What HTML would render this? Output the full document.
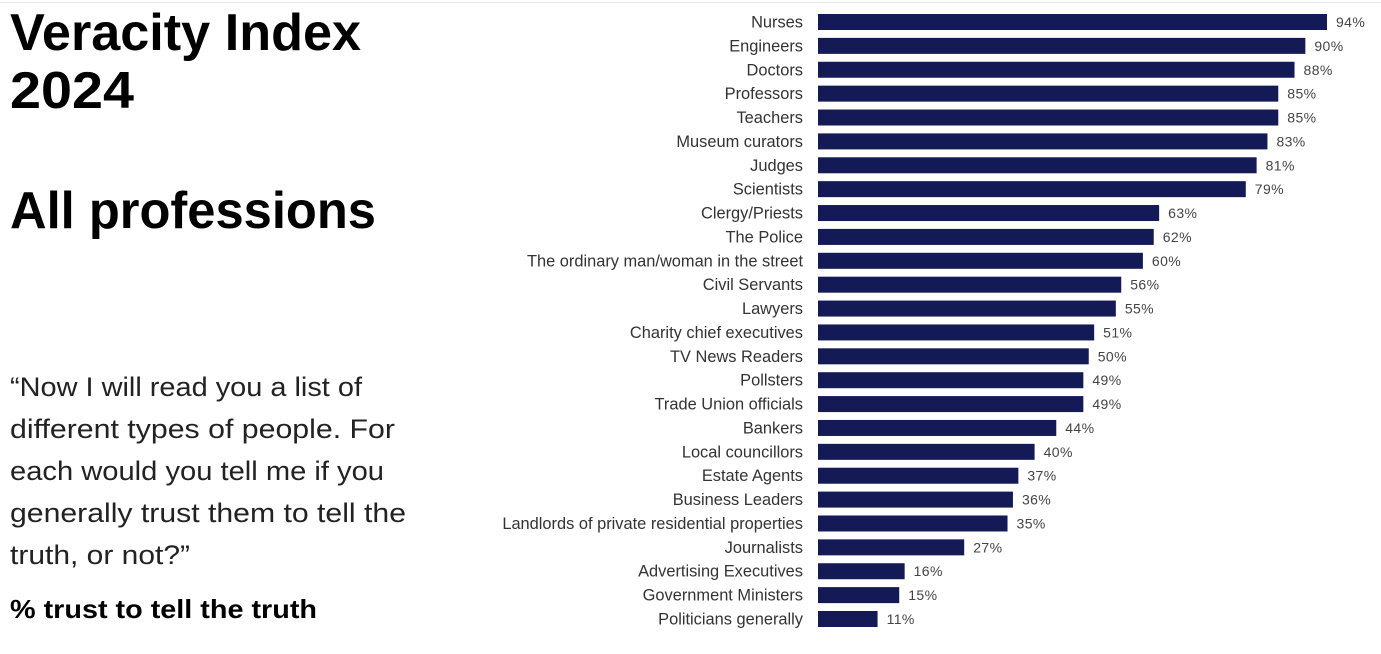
<!DOCTYPE html>
<html><head><meta charset="utf-8"><style>
body{margin:0;background:#fff;width:1381px;height:654px;overflow:hidden}
svg{display:block;font-family:"Liberation Sans",sans-serif}
</style></head><body>
<svg width="1381" height="654" viewBox="0 0 1381 654">
<line x1="0" y1="2.5" x2="1381" y2="2.5" stroke="#e4e4ee" stroke-width="1"/>
<g font-weight="bold" fill="#000" font-size="52">
<text x="10" y="50" textLength="351" lengthAdjust="spacingAndGlyphs">Veracity Index</text>
<text x="10" y="108" textLength="124" lengthAdjust="spacingAndGlyphs">2024</text>
<text x="10" y="228" textLength="366" lengthAdjust="spacingAndGlyphs">All professions</text>
</g>
<g fill="#222" font-size="27">
<text x="10" y="396" textLength="352" lengthAdjust="spacingAndGlyphs">“Now I will read you a list of</text>
<text x="10" y="438" textLength="385" lengthAdjust="spacingAndGlyphs">different types of people. For</text>
<text x="10" y="480" textLength="374" lengthAdjust="spacingAndGlyphs">each would you tell me if you</text>
<text x="10" y="522" textLength="396" lengthAdjust="spacingAndGlyphs">generally trust them to tell the</text>
<text x="10" y="564" textLength="180" lengthAdjust="spacingAndGlyphs">truth, or not?”</text>
</g>
<text x="10" y="618" font-weight="bold" font-size="26" textLength="307" lengthAdjust="spacingAndGlyphs">% trust to tell the truth</text>
<g id="bars"></g>
</svg>
<script>
var d=[["Nurses",94],["Engineers",90],["Doctors",88],["Professors",85],["Teachers",85],["Museum curators",83],["Judges",81],["Scientists",79],["Clergy/Priests",63],["The Police",62],["The ordinary man/woman in the street",60],["Civil Servants",56],["Lawyers",55],["Charity chief executives",51],["TV News Readers",50],["Pollsters",49],["Trade Union officials",49],["Bankers",44],["Local councillors",40],["Estate Agents",37],["Business Leaders",36],["Landlords of private residential properties",35],["Journalists",27],["Advertising Executives",16],["Government Ministers",15],["Politicians generally",11]];
var g=document.getElementById("bars"),s="",n=d.length,step=(619-22)/(n-1);
for(var i=0;i<n;i++){var cy=22+i*step,w=d[i][1]*5.415;
s+='<rect x="818" y="'+(cy-8)+'" width="'+w+'" height="16" fill="#141a55"/>';
s+='<text x="803" y="'+(cy+5.5)+'" text-anchor="end" font-size="16.4" fill="#333">'+d[i][0]+'</text>';
s+='<text x="'+(818+w+9)+'" y="'+(cy+5)+'" font-size="14" letter-spacing="0.4" fill="#444">'+d[i][1]+'%</text>';}
g.innerHTML=s;
</script>
</body></html>
